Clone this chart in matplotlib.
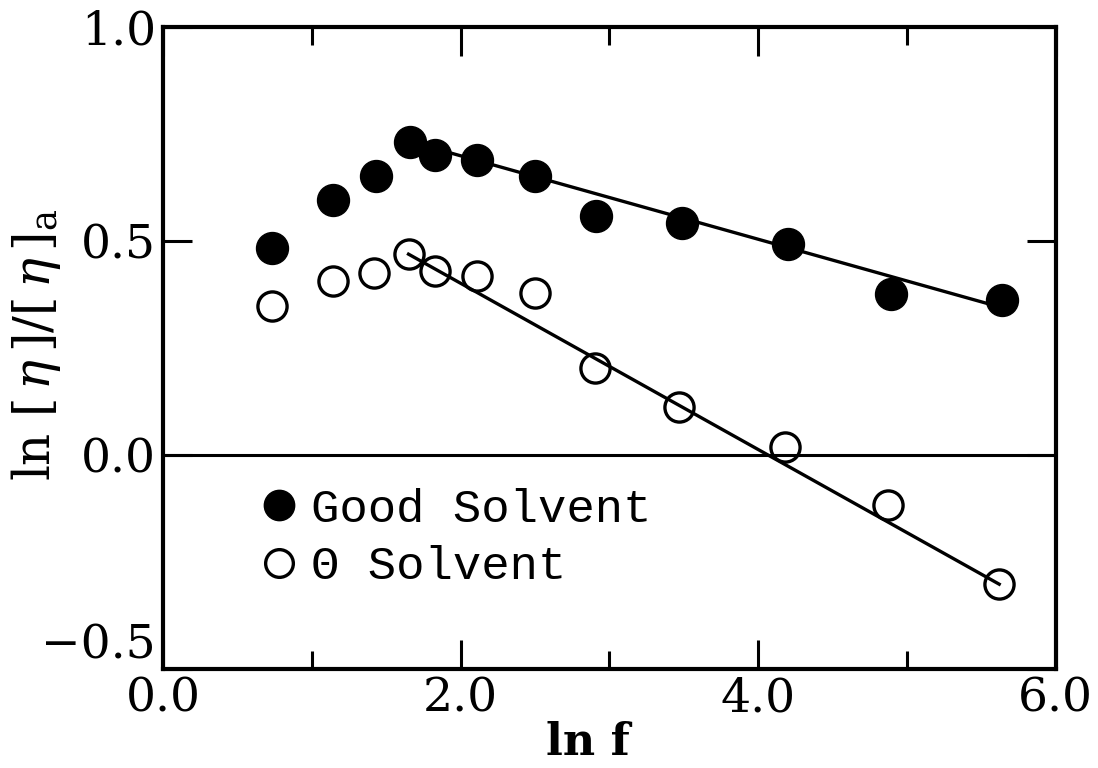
import matplotlib
matplotlib.use("Agg")
import matplotlib.pyplot as plt

# ln f values and ln([eta]/[eta]_a)
good_x = [0.73, 1.14, 1.43, 1.66, 1.83, 2.11, 2.50, 2.91, 3.49, 4.20, 4.89, 5.64]
good_y = [0.484, 0.595, 0.652, 0.732, 0.700, 0.690, 0.651, 0.558, 0.541, 0.493, 0.375, 0.361]

theta_x = [0.73, 1.14, 1.42, 1.65, 1.83, 2.11, 2.50, 2.90, 3.47, 4.18, 4.87, 5.62]
theta_y = [0.347, 0.407, 0.425, 0.469, 0.430, 0.417, 0.379, 0.204, 0.111, 0.018, -0.116, -0.302]

# straight-line fits (end points)
good_fit_x = [1.66, 5.64]
good_fit_y = [0.732, 0.344]
theta_fit_x = [1.65, 5.62]
theta_fit_y = [0.469, -0.302]

xticks = [0.0, 2.0, 4.0, 6.0]
xticklabels = ["0.0", "2.0", "4.0", "6.0"]
yticks = [-0.5, 0.0, 0.5, 1.0]
yticklabels = ["\u22120.5", "0.0", "0.5", "1.0"]

plt.rcParams["font.family"] = ["DejaVu Serif"]
plt.rcParams["mathtext.fontset"] = "dejavuserif"

fig = plt.figure(figsize=(10.98, 7.68), dpi=100)
ax = fig.add_axes([0.1485, 0.129, 0.813, 0.836])

ax.axhline(0.0, color="black", lw=2.2, zorder=1)
ax.plot(good_fit_x, good_fit_y, color="black", lw=2.4, zorder=2)
ax.plot(theta_fit_x, theta_fit_y, color="black", lw=2.4, zorder=2)

ax.plot(good_x, good_y, "o", ms=23, color="black", mec="black",
        label="Good Solvent", zorder=3)
ax.plot(theta_x, theta_y, "o", ms=21, mfc="none", mec="black", mew=2.4,
        label="\u0398 Solvent", zorder=3)

ax.set_xlim(0, 6.0)
ax.set_ylim(-0.5, 1.0)
ax.set_xticks(xticks)
ax.set_xticklabels(xticklabels)
ax.set_xticks([1.0, 3.0, 5.0], minor=True)
ax.set_yticks(yticks)
ax.set_yticklabels(yticklabels)
# the bottom label sits a little above its tick in the original
ax.get_yticklabels()[0].set_va("bottom")

ax.tick_params(which="both", direction="in", top=True, right=True,
               width=2.2, labelsize=34, color="black")
ax.tick_params(which="major", length=21)
ax.tick_params(which="minor", length=13)
ax.tick_params(axis="x", pad=5)
ax.tick_params(axis="y", pad=5)
for s in ax.spines.values():
    s.set_linewidth(3.0)

ax.set_xlabel("ln f", fontsize=32, fontweight="bold", va="center")
ax.xaxis.set_label_coords(0.476, -0.115)
ax.set_ylabel(r"ln $[\,\eta\,]/[\,\eta\,]_{\rm a}$", fontsize=36)
ax.yaxis.set_label_coords(-0.112, 0.505)

ax.legend(loc="upper left", bbox_to_anchor=(0.115, 0.282), frameon=False,
          prop={"family": "Liberation Mono", "size": 34},
          handlelength=0.55, handletextpad=0.4, labelspacing=0.28,
          borderpad=0, borderaxespad=0, markerscale=0.95)

fig.savefig("out.png", dpi=100)
